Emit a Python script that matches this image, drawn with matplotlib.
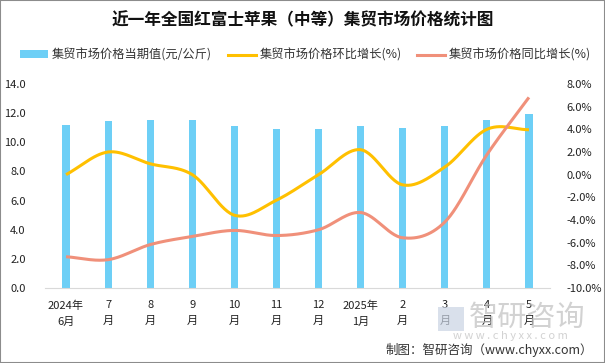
import numpy as np
import matplotlib
matplotlib.use("Agg")
import matplotlib.pyplot as plt
from matplotlib.patches import Rectangle, Patch
from matplotlib.lines import Line2D

plt.rcParams['font.family'] = ['Noto Sans CJK SC', 'DejaVu Sans']

categories = ["2024年\n6月", "7\n月", "8\n月", "9\n月", "10\n月", "11\n月", "12\n月",
              "2025年\n1月", "2\n月", "3\n月", "4\n月", "5\n月"]
price = [11.2, 11.46, 11.53, 11.53, 11.12, 10.91, 10.91, 11.12, 10.98, 11.12, 11.53, 11.94]
mom = [0.0, 2.0, 0.96, 0.0, -3.58, -2.25, 0.0, 2.2, -0.9, 0.67, 4.0, 3.96]
yoy = [-7.24, -7.5, -6.17, -5.45, -4.92, -5.37, -4.86, -3.34, -5.57, -4.18, 1.76, 6.82]

left_ticks = [0, 2, 4, 6, 8, 10, 12, 14]
right_ticks = [-10, -8, -6, -4, -2, 0, 2, 4, 6, 8]

BAR = "#6DCFF6"
YEL = "#FFC000"
SAL = "#F0907A"


def smooth(xs, ys, n=30):
    xs = np.asarray(xs, float)
    ys = np.asarray(ys, float)
    P = np.column_stack([xs, ys])
    P = np.vstack([2 * P[0] - P[1], P, 2 * P[-1] - P[-2]])
    out = []
    for i in range(1, len(P) - 2):
        p0, p1, p2, p3 = P[i - 1], P[i], P[i + 1], P[i + 2]
        t = np.linspace(0, 1, n, endpoint=False)[:, None]
        c = 0.5 * ((2 * p1) + (-p0 + p2) * t + (2 * p0 - 5 * p1 + 4 * p2 - p3) * t ** 2
                   + (-p0 + 3 * p1 - 3 * p2 + p3) * t ** 3)
        out.append(c)
    out.append(P[-2][None, :])
    out = np.vstack(out)
    return out[:, 0], out[:, 1]


fig = plt.figure(figsize=(6.05, 3.63), dpi=100)
ax = fig.add_axes([45 / 605, 1 - 288 / 363, 505 / 605, 204 / 363])
ax2 = ax.twinx()

x = np.arange(len(categories))
ax.bar(x, price, width=0.17, color=BAR, zorder=2)
ax.set_xlim(-0.5, 11.5)
ax.set_ylim(0, 14)
ax.set_yticks(left_ticks)
ax.set_yticklabels([f"{v:.1f}" for v in left_ticks])
ax.set_xticks(x)
ax.set_xticklabels(categories, linespacing=1.7)

sx, sy = smooth(x, mom)
ax2.plot(sx, sy, color=YEL, lw=2.2, solid_capstyle='butt', zorder=3)
sx, sy = smooth(x, yoy)
ax2.plot(sx, sy, color=SAL, lw=2.2, solid_capstyle='butt', zorder=3)
ax2.set_ylim(-10, 8)
ax2.set_yticks(right_ticks)
ax2.set_yticklabels([f"{v:.1f}%" for v in right_ticks])

for a in (ax, ax2):
    for s in a.spines.values():
        s.set_visible(False)
    a.tick_params(length=0, labelsize=8, colors="#222222")
ax.spines['bottom'].set_visible(True)
ax.spines['bottom'].set_color("#D9D9D9")
ax.tick_params(axis='y', pad=14)
ax.tick_params(axis='x', pad=9)
ax2.tick_params(axis='y', pad=12)

fig.text(0.5, 1 - 20 / 363, "近一年全国红富士苹果（中等）集贸市场价格统计图", ha='center', va='center',
         fontsize=12, fontweight='bold', color="#111111")

handles = [Patch(facecolor=BAR, edgecolor='none'),
           Line2D([], [], color=YEL, lw=2.2),
           Line2D([], [], color=SAL, lw=2.2)]
labels = ["集贸市场价格当期值(元/公斤)", "集贸市场价格环比增长(%)", "集贸市场价格同比增长(%)"]
leg = fig.legend(handles, labels, loc='center', bbox_to_anchor=(0.505, 1 - 55 / 363), ncol=3,
                 frameon=False, fontsize=8.8, handlelength=2.3, handleheight=0.6,
                 columnspacing=1.3, handletextpad=0.3)
for t in leg.get_texts():
    t.set_color("#333333")

# watermark
fig.text(527 / 605, 1 - 318 / 363, "智研咨询", ha='center', va='center', fontsize=21,
         color="#BFBFBF", alpha=0.7, zorder=0)
fig.text(510 / 605, 1 - 336 / 363, "w w w . c h y x x . c o m", ha='center', va='center',
         fontsize=8, color="#BFBFBF", alpha=0.7, zorder=0)
fig.patches.append(Rectangle((438 / 605, 1 - 331 / 363), 26 / 605, 24 / 363, transform=fig.transFigure,
                             facecolor="#C9D3E3", edgecolor='none', alpha=0.7))

fig.text(593 / 605, 1 - 350 / 363, "制图：智研咨询（www.chyxx.com）", ha='right', va='center',
         fontsize=9, color="#333333")

fig.patches.append(Rectangle((0, 0), 1, 1, transform=fig.transFigure, fill=False,
                             edgecolor="#8C8C8C", lw=1.5))

fig.savefig("out.png", dpi=100)
